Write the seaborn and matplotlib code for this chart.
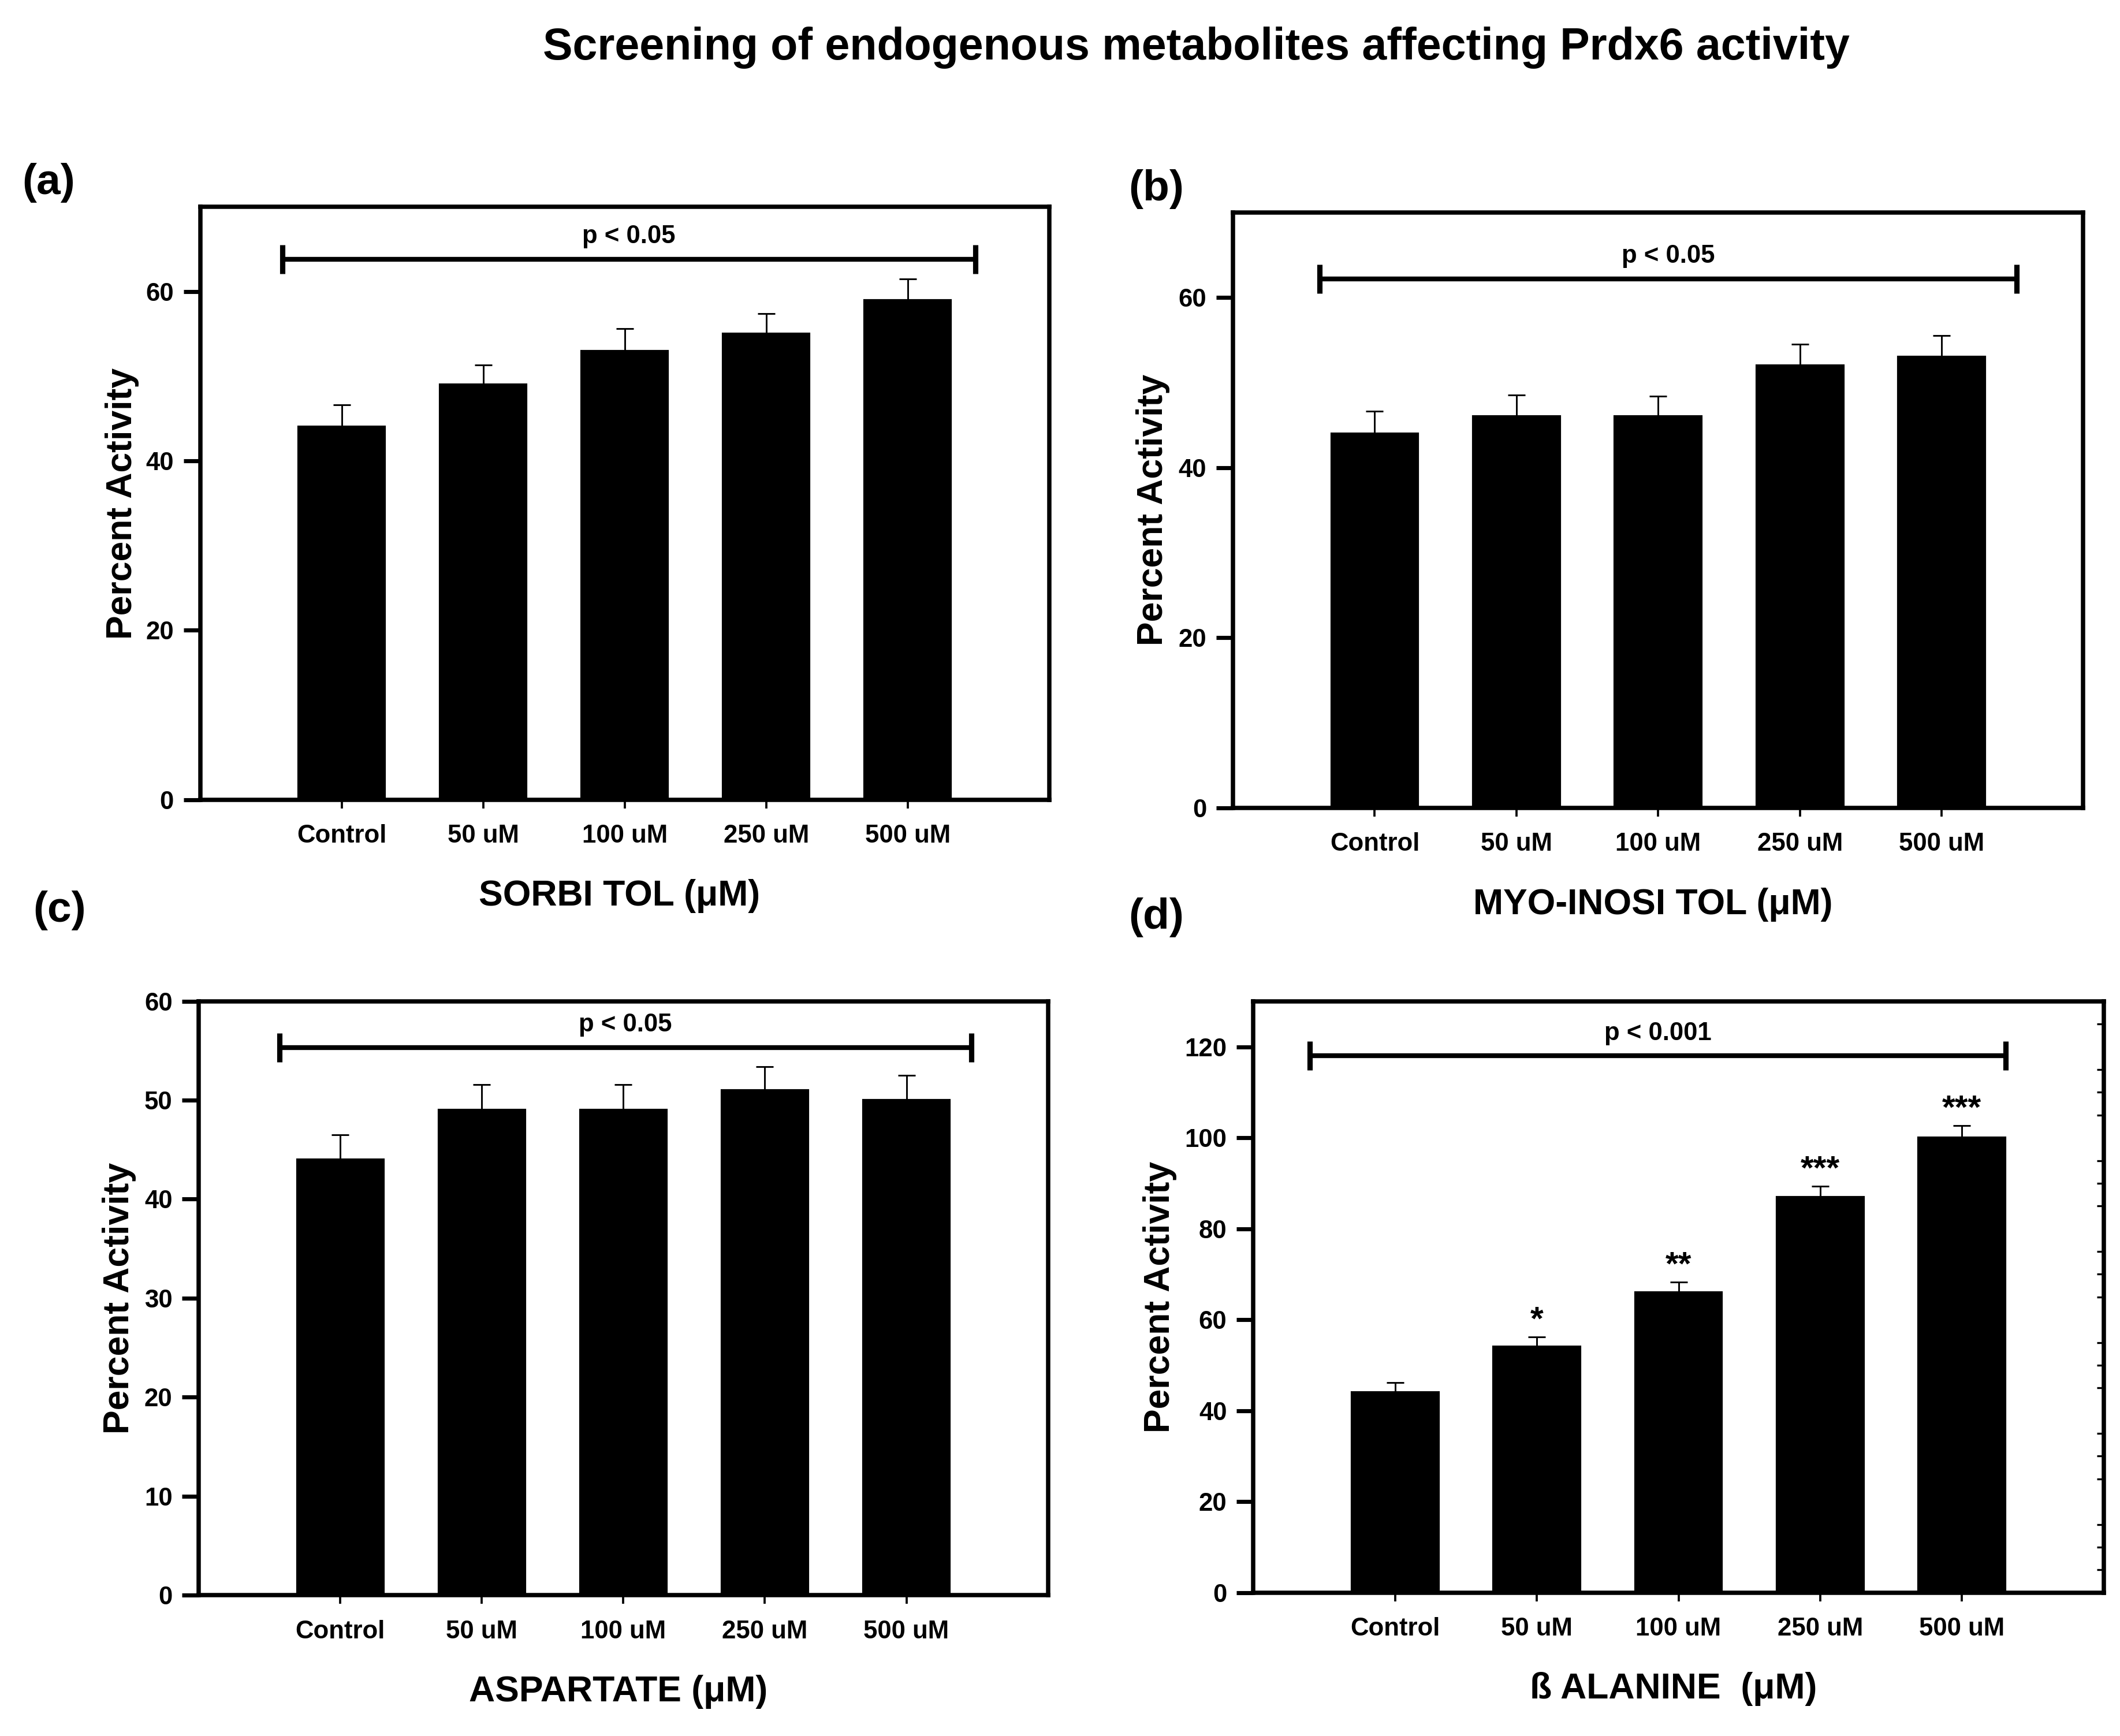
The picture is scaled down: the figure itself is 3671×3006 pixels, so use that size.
import matplotlib
matplotlib.use('Agg')
import matplotlib.pyplot as plt
import seaborn as sns
from matplotlib.ticker import MultipleLocator

# Data (mean percent activity and upper SEM)
doses = ['Control', '50 uM', '100 uM', '250 uM', '500 uM']

sorbitol = [44, 49, 53, 55, 59]
sorbitol_err = [2.6, 2.3, 2.6, 2.4, 2.5]

inositol = [44, 46, 46, 52, 53]
inositol_err = [2.6, 2.5, 2.4, 2.5, 2.5]

aspartate = [44, 49, 49, 51, 50]
aspartate_err = [2.5, 2.6, 2.6, 2.4, 2.5]

alanine = [44, 54, 66, 87, 100]
alanine_err = [2.2, 2.2, 2.3, 2.3, 2.7]
alanine_stars = ['', '*', '**', '***', '***']

p_labels = ['p < 0.05', 'p < 0.05', 'p < 0.05', 'p < 0.001']

sns.set_style('ticks')
plt.rcParams['font.family'] = ['Liberation Sans', 'DejaVu Sans']
plt.rcParams['font.weight'] = 'bold'
plt.rcParams['axes.labelweight'] = 'bold'
plt.rcParams['text.color'] = 'black'
plt.rcParams['axes.labelcolor'] = 'black'
plt.rcParams['xtick.color'] = 'black'
plt.rcParams['ytick.color'] = 'black'

fig = plt.figure(figsize=(3671 / 300, 3006 / 300), dpi=300)

panels = [
    # axes rect, values, errors, xlabel, ylim, ystep, bracket (x0, x1, y), panel tag, tag pos, ylabel x
    ([0.0944, 0.5394, 0.4005, 0.3414], sorbitol, sorbitol_err, 'SORBI TOL (μM)',
     70, 20, (-0.42, 4.48, 63.8), '(a)', (0.0230, 0.8948), -0.092),
    ([0.5816, 0.5347, 0.4011, 0.3430], inositol, inositol_err, 'MYO-INOSI TOL (μM)',
     70, 20, (-0.39, 4.53, 62.2), '(b)', (0.5453, 0.8909), -0.094),
    ([0.0938, 0.0811, 0.4005, 0.3422], aspartate, aspartate_err, 'ASPARTATE (μM)',
     60, 10, (-0.43, 4.46, 55.3), '(c)', (0.0281, 0.4754), -0.094),
    ([0.5912, 0.0826, 0.4011, 0.3406], alanine, alanine_err, 'ß ALANINE  (μM)',
     130, 20, (-0.60, 4.31, 118.0), '(d)', (0.5453, 0.4716), -0.110),
]

for i, (rect, vals, errs, xlab, ytop, ystep, bracket, tag, tagpos, ylx) in enumerate(panels):
    ax = fig.add_axes(rect)
    sns.barplot(x=doses, y=vals, color='black', saturation=1, width=0.61,
                edgecolor='black', errorbar=None, ax=ax)
    ax.errorbar(range(len(doses)), vals, yerr=[[0] * len(errs), errs], fmt='none',
                ecolor='black', elinewidth=0.7, capsize=3.6, capthick=0.7)

    ax.set_xlim(-1, 5)
    ax.set_ylim(0, ytop)
    ax.yaxis.set_major_locator(MultipleLocator(ystep))
    if ytop == 70:
        ax.set_yticks([0, 20, 40, 60])

    for s in ax.spines.values():
        s.set_linewidth(1.8)
        s.set_color('black')
    ax.tick_params(axis='y', which='major', direction='out', length=7, width=1.7,
                   labelsize=10.5, pad=4, color='black', labelcolor='black')
    ax.tick_params(axis='x', which='major', direction='out', length=3.7, width=0.9,
                   labelsize=10.5, pad=6.5, color='black', labelcolor='black')
    for lab in ax.get_xticklabels() + ax.get_yticklabels():
        lab.set_fontweight('bold')

    ax.set_ylabel('Percent Activity', fontsize=15, va='center', color='black')
    ax.yaxis.set_label_coords(ylx, 0.5)
    ax.set_xlabel(xlab, fontsize=15, va='center', color='black')
    ax.xaxis.set_label_coords(0.494, -0.163)

    # significance bracket across all groups
    x0, x1, by = bracket
    ax.plot([x0, x1], [by, by], color='black', lw=2.0, solid_capstyle='butt')
    ax.plot([x0, x1], [by, by], ls='none', marker='|', markersize=12,
            markeredgewidth=2.2, color='black')
    ax.annotate(p_labels[i], xy=((x0 + x1) / 2, by), xytext=(0, 4.5),
                textcoords='offset points', ha='center', va='bottom',
                fontsize=10.5, fontweight='bold', color='black')

    fig.text(tagpos[0], tagpos[1], tag, fontsize=18, fontweight='bold',
             ha='center', va='center', color='black')

    if tag == '(d)':
        for j, st in enumerate(alanine_stars):
            if st:
                ax.annotate(st, xy=(j, vals[j] + errs[j]), xytext=(0, 3),
                            textcoords='offset points', ha='center',
                            va='baseline', fontsize=14, fontweight='bold',
                            color='black')
        ax.yaxis.set_minor_locator(MultipleLocator(5))
        ax.tick_params(axis='y', which='minor', left=False, right=True,
                       direction='in', length=3, width=0.8, color='black')

fig.text(0.5644, 0.9727, 'Screening of endogenous metabolites affecting Prdx6 activity',
         fontsize=18.5, fontweight='bold', ha='center', va='center', color='black')

fig.savefig('out.png', dpi=300)
